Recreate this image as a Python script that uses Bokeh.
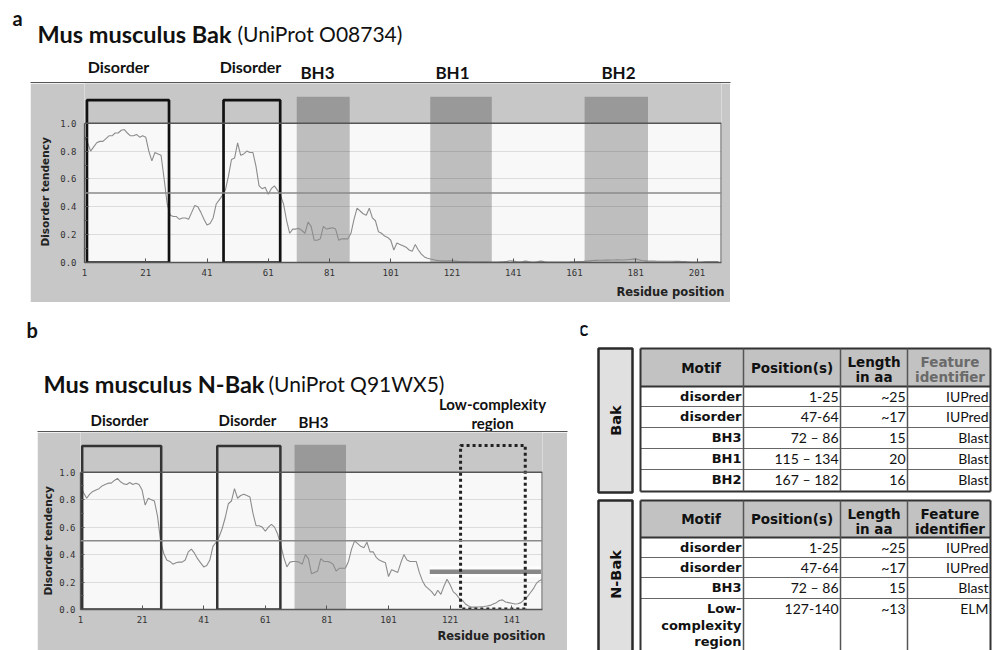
import math
import numpy as np
from bokeh.plotting import figure
from bokeh.models import Range1d, FixedTicker, PrintfTickFormatter, Span, Spacer, Title
from bokeh.layouts import column, row
from bokeh.embed import file_html
from bokeh.resources import INLINE
from bokeh.core.properties import value

# ---------------- data ----------------
# IUPred disorder tendency, Mus musculus Bak (residues 1..208)
bak_disorder = [
    0.90, 0.86, 0.80, 0.83, 0.86, 0.87, 0.87, 0.89, 0.91, 0.91,
    0.93, 0.93, 0.95, 0.955, 0.93, 0.91, 0.91, 0.92, 0.90, 0.91,
    0.90, 0.80, 0.73, 0.79, 0.78, 0.77, 0.60, 0.42, 0.34, 0.33,
    0.33, 0.31, 0.32, 0.32, 0.31, 0.36, 0.41, 0.40, 0.36, 0.31,
    0.27, 0.28, 0.32, 0.42, 0.45, 0.48, 0.52, 0.62, 0.74, 0.75,
    0.86, 0.77, 0.78, 0.80, 0.79, 0.79, 0.69, 0.55, 0.53, 0.54,
    0.49, 0.53, 0.55, 0.52, 0.48, 0.42, 0.30, 0.21, 0.24, 0.24,
    0.245, 0.23, 0.21, 0.29, 0.26, 0.16, 0.16, 0.17, 0.26, 0.24,
    0.245, 0.25, 0.24, 0.16, 0.17, 0.17, 0.17, 0.21, 0.31, 0.39,
    0.37, 0.35, 0.34, 0.39, 0.32, 0.30, 0.22, 0.21, 0.19, 0.18,
    0.16, 0.09, 0.14, 0.13, 0.12, 0.11, 0.09, 0.08, 0.13, 0.09,
    0.06, 0.04, 0.03, 0.025, 0.02, 0.015, 0.012, 0.012, 0.010, 0.012,
    0.012, 0.010, 0.008, 0.007, 0.006, 0.006, 0.005, 0.005, 0.005, 0.005,
    0.005, 0.005, 0.005, 0.004, 0.004, 0.004, 0.005, 0.006, 0.008, 0.012,
    0.010, 0.007, 0.005, 0.006, 0.010, 0.006, 0.004, 0.004, 0.006, 0.010,
    0.006, 0.004, 0.004, 0.004, 0.004, 0.004, 0.004, 0.004, 0.004, 0.005,
    0.005, 0.006, 0.007, 0.008, 0.010, 0.012, 0.014, 0.015, 0.016, 0.016,
    0.017, 0.017, 0.018, 0.018, 0.020, 0.018, 0.018, 0.020, 0.022, 0.024,
    0.026, 0.020, 0.014, 0.012, 0.010, 0.010, 0.010, 0.009, 0.009, 0.009,
    0.009, 0.009, 0.009, 0.008, 0.008, 0.007, 0.006, 0.005, 0.004, 0.004,
    0.004, 0.004, 0.005, 0.006, 0.006, 0.006, 0.006, 0.006,
]

# IUPred disorder tendency, Mus musculus N-Bak (residues 1..151)
nbak_disorder = [
    0.90, 0.85, 0.81, 0.84, 0.86, 0.87, 0.88, 0.90, 0.91, 0.92,
    0.92, 0.94, 0.955, 0.93, 0.915, 0.91, 0.925, 0.91, 0.92, 0.91,
    0.87, 0.76, 0.81, 0.80, 0.79, 0.68, 0.50, 0.41, 0.36, 0.35,
    0.33, 0.34, 0.345, 0.345, 0.36, 0.42, 0.44, 0.41, 0.37, 0.34,
    0.31, 0.32, 0.36, 0.46, 0.49, 0.53, 0.59, 0.67, 0.77, 0.79,
    0.88, 0.81, 0.83, 0.84, 0.83, 0.82, 0.70, 0.61, 0.61, 0.60,
    0.57, 0.60, 0.62, 0.60, 0.55, 0.47, 0.38, 0.31, 0.345, 0.35,
    0.35, 0.345, 0.33, 0.40, 0.37, 0.26, 0.27, 0.28, 0.37, 0.35,
    0.35, 0.345, 0.33, 0.28, 0.30, 0.30, 0.30, 0.35, 0.44, 0.50,
    0.48, 0.46, 0.45, 0.49, 0.42, 0.42, 0.38, 0.36, 0.35, 0.34,
    0.24, 0.29, 0.28, 0.27, 0.34, 0.40, 0.36, 0.35, 0.35, 0.35,
    0.27, 0.21, 0.17, 0.15, 0.13, 0.10, 0.14, 0.11, 0.17, 0.22,
    0.18, 0.13, 0.11, 0.08, 0.066, 0.04, 0.025, 0.017, 0.017, 0.018,
    0.02, 0.022, 0.025, 0.03, 0.04, 0.05, 0.065, 0.07, 0.055, 0.05,
    0.045, 0.04, 0.042, 0.05, 0.07, 0.09, 0.12, 0.15, 0.19, 0.21, 0.22,
]

# region spans (residues)
bak_disorder_start = [1.8, 46.4]
bak_disorder_end = [28.6, 64.9]
bak_motif_start = [70.3, 113.9, 164.3]     # BH3, BH1, BH2
bak_motif_end = [87.6, 134.0, 185.0]

nbak_disorder_start = [1.55, 45.4]
nbak_disorder_end = [27.2, 65.9]
nbak_motif_start = [70.5]                   # BH3
nbak_motif_end = [87.2]
nbak_lcr_start = [124.4]                    # low-complexity region
nbak_lcr_end = [145.4]
nbak_lcr_mark_x = [114.4, 150.5]
nbak_lcr_mark_y = [0.275, 0.275]

bak_xticks = [1, 21, 41, 61, 81, 101, 121, 141, 161, 181, 201]
nbak_xticks = [1, 21, 41, 61, 81, 101, 121, 141]
y_ticks = [0.0, 0.2, 0.4, 0.6, 0.8, 1.0]
y_minor_ticks = [0.1, 0.3, 0.5, 0.7, 0.9]
grid_ticks = [0.2, 0.4, 0.6, 0.8]

bak_labels = ["Disorder", "Disorder"]
bak_motif_labels = ["BH3", "BH1", "BH2"]
nbak_labels = ["Disorder", "Disorder", "BH3"]

table_header = ["Motif", "Position(s)", "Length", "in aa", "Feature", "identifier"]
bak_rows = [
    ("disorder", "1-25", "~25", "IUPred"),
    ("disorder", "47-64", "~17", "IUPred"),
    ("BH3", "72 \u2013 86", "15", "Blast"),
    ("BH1", "115 \u2013 134", "20", "Blast"),
    ("BH2", "167 \u2013 182", "16", "Blast"),
]
nbak_rows = [
    ("disorder", "1-25", "~25", "IUPred"),
    ("disorder", "47-64", "~17", "IUPred"),
    ("BH3", "72 \u2013 86", "15", "Blast"),
    ("Low-|complexity|region", "127-140", "~13", "ELM"),
]

# ---------------- style ----------------
GRAY = "#c7c7c7"
PLOT_BG = "#f8f8f8"
CURVE = "#8c8c8c"
DARK = "#555555"
LATO = value("Lato")
DJB = value("DejaVu Sans")


def blank(width, height, x0, x1, y_bottom, y_top):
    f = figure(width=width, height=height, x_range=Range1d(x0, x1),
               y_range=Range1d(y_bottom, y_top), toolbar_location=None,
               output_backend="svg", min_border=0, x_axis_location=None,
               y_axis_location=None, outline_line_color=None,
               background_fill_color="white", border_fill_color="white")
    f.xgrid.grid_line_color = None
    f.ygrid.grid_line_color = None
    return f


def make_panel(vals, xmax, xticks, width, height, mb_left, mb_right, mb_bottom,
               ytop, ytick_standoff, ylab_offset, ylab_standoff, xlab_standoff):
    res = np.arange(1, len(vals) + 1)
    p = figure(width=width, height=height, x_range=Range1d(1, xmax),
               y_range=Range1d(0, ytop), toolbar_location=None,
               output_backend="svg", min_border_left=mb_left,
               min_border_right=mb_right, min_border_top=0,
               min_border_bottom=mb_bottom, background_fill_color=PLOT_BG,
               border_fill_color=GRAY, outline_line_color=None)
    p.xgrid.visible = False
    p.ygrid.ticker = FixedTicker(ticks=grid_ticks)
    p.ygrid.grid_line_color = "#dcdcdc"
    p.ygrid.grid_line_width = 1.2

    ax = p.xaxis[0]
    ax.ticker = FixedTicker(ticks=xticks)
    ax.major_tick_in = 4
    ax.major_tick_out = 0
    ax.minor_tick_line_color = None
    ax.major_label_standoff = 6
    ax.major_label_text_font = "DejaVu Sans Mono"
    ax.major_label_text_font_size = "9px"
    ax.major_label_text_color = "#333333"
    ax.axis_line_color = DARK
    ax.axis_line_width = 1.3
    ax.major_tick_line_color = DARK

    ay = p.yaxis[0]
    ay.ticker = FixedTicker(ticks=y_ticks, minor_ticks=y_minor_ticks)
    ay.bounds = (0, 1)
    ay.formatter = PrintfTickFormatter(format="%.1f")
    ay.major_tick_in = 4
    ay.major_tick_out = 0
    ay.minor_tick_in = 3
    ay.minor_tick_out = 0
    ay.major_label_standoff = ytick_standoff
    ay.major_label_text_font = "DejaVu Sans Mono"
    ay.major_label_text_font_size = "9px"
    ay.major_label_text_color = "#333333"
    ay.axis_line_color = DARK
    ay.axis_line_width = 1.3
    ay.major_tick_line_color = DARK
    ay.minor_tick_line_color = DARK

    # grey band above the 1.0 limit
    p.quad(left=[-50], right=[xmax + 50], bottom=[1], top=[ytop + 1],
           fill_color=GRAY, line_color=None)
    p.add_layout(Span(location=0.5, dimension="width", line_color="#8a8a8a",
                      line_width=1.5))
    p.add_layout(Span(location=1.0, dimension="width", line_color=DARK,
                      line_width=1.6))
    p.segment(x0=[xmax], y0=[0], x1=[xmax], y1=[1], line_color=DARK, line_width=2)

    p.add_layout(Title(text="Disorder tendency", align="left", offset=ylab_offset,
                       standoff=ylab_standoff, text_font="DejaVu Sans",
                       text_font_style="bold", text_font_size="10.5px",
                       text_color="#222222"), "left")
    p.add_layout(Title(text="Residue position", align="right", offset=-3,
                       standoff=xlab_standoff, text_font="DejaVu Sans",
                       text_font_style="bold", text_font_size="11.5px",
                       text_color="#222222"), "below")
    return p, res


# ---------------- panel a ----------------
pa, bak_res = make_panel(bak_disorder, 209, bak_xticks, 700, 219, 53, 9, 39,
                         1.2857, 8, 16, 13, 8)
pa.quad(left=bak_motif_start, right=bak_motif_end, bottom=0, top=1.19,
        fill_color="black", fill_alpha=0.23, line_color=None)
pa.line(x=bak_res, y=bak_disorder, line_color=CURVE, line_width=1.1)
pa.quad(left=bak_disorder_start, right=bak_disorder_end, bottom=0, top=1.166,
        fill_color=None, line_color="#111111", line_width=2.7)

# ---------------- panel b ----------------
pb, nbak_res = make_panel(nbak_disorder, 151, nbak_xticks, 530, 218, 41, 25, 41,
                          1.289, 5, 14, 5, 3)
pb.quad(left=nbak_motif_start, right=nbak_motif_end, bottom=0, top=1.2,
        fill_color="black", fill_alpha=0.23, line_color=None)
pb.line(x=nbak_lcr_mark_x, y=nbak_lcr_mark_y, line_color="white", line_width=11,
        line_alpha=0.7)
pb.line(x=nbak_res, y=nbak_disorder, line_color=CURVE, line_width=1.1)
pb.line(x=nbak_lcr_mark_x, y=nbak_lcr_mark_y, line_color="#7a7a7a", line_width=4.5,
        line_alpha=0.9)
pb.quad(left=nbak_disorder_start, right=nbak_disorder_end, bottom=0, top=1.19,
        fill_color=None, line_color="#333333", line_width=2.5)
pb.quad(left=nbak_lcr_start, right=nbak_lcr_end, bottom=0.004, top=1.194,
        fill_color=None, line_color="#222222", line_width=3, line_dash="3 3")

# ---------------- strip above panel a (page pixel coordinates) ----------------
sa = blank(997, 83, 0, 997, 83, 0)
sa.text(x=[12], y=[17], text=["a"], text_font=LATO, text_font_style="bold",
        text_font_size="20px", text_align="left", text_baseline="middle",
        text_color="#111111")
sa.text(x=[37], y=[33], text=["Mus musculus Bak"], text_font=LATO,
        text_font_style="bold", text_font_size="23.5px", text_align="left",
        text_baseline="middle", text_color="#111111")
sa.text(x=[237], y=[33], text=["(UniProt O08734)"], text_font=LATO,
        text_font_size="21px", text_align="left", text_baseline="middle",
        text_color="#111111")
sa.text(x=[118, 250], y=[66, 66], text=bak_labels, text_font=LATO,
        text_font_style="bold", text_font_size="16px", text_align="center",
        text_baseline="middle", text_color="#111111")
sa.text(x=[317, 452, 618], y=[72, 72, 72], text=bak_motif_labels, text_font=LATO,
        text_font_style="bold", text_font_size="17px", text_align="center",
        text_baseline="middle", text_color="#111111")
sa.segment(x0=[30], y0=[82.3], x1=[730], y1=[82.3], line_color=DARK, line_width=1.6)

# ---------------- strip above panel b ----------------
sb = blank(580, 130, 0, 580, 432, 302)
sb.text(x=[26], y=[329], text=["b"], text_font=LATO, text_font_style="bold",
        text_font_size="20px", text_align="left", text_baseline="middle",
        text_color="#111111")
sb.text(x=[43], y=[383], text=["Mus musculus N-Bak"], text_font=LATO,
        text_font_style="bold", text_font_size="23.5px", text_align="left",
        text_baseline="middle", text_color="#111111")
sb.text(x=[268], y=[383], text=["(UniProt Q91WX5)"], text_font=LATO,
        text_font_size="21px", text_align="left", text_baseline="middle",
        text_color="#111111")
sb.text(x=[119, 247, 313], y=[419, 419, 421], text=nbak_labels, text_font=LATO,
        text_font_style="bold", text_font_size="15px", text_align="center",
        text_baseline="middle", text_color="#111111")
sb.text(x=[492, 492], y=[403, 422], text=["Low-complexity", "region"], text_font=LATO,
        text_font_style="bold", text_font_size="15px", text_align="center",
        text_baseline="middle", text_color="#111111")
sb.segment(x0=[37], y0=[431.3], x1=[567], y1=[431.3], line_color=DARK, line_width=1.6)

# ---------------- table c ----------------
tc = blank(417, 348, 580, 997, 650, 302)
tc.text(x=[583], y=[327], text=["c"], text_font=LATO, text_font_style="bold",
        text_font_size="20px", text_align="center", text_baseline="middle",
        text_color="#111111")

COLS = [640, 743, 840, 907, 990]


def draw_table(edges, rows, feature_color, side_label, side_top, side_bottom, side_mid):
    top, hb = edges[0], edges[1]
    bottom = edges[-1]
    tc.quad(left=[598], right=[632], top=[side_top], bottom=[side_bottom],
            fill_color="#e0e0e0", line_color="#2a2a2a", line_width=2.5)
    tc.text(x=[615], y=[side_mid], text=[side_label], angle=math.pi / 2,
            text_font=DJB, text_font_style="bold", text_font_size="14.5px",
            text_align="center", text_baseline="middle", text_color="#111111")
    tc.quad(left=[COLS[0]], right=[COLS[-1]], top=[top], bottom=[hb],
            fill_color="#c2c2c2", line_color=None)
    tc.quad(left=[COLS[0]], right=[COLS[-1]], top=[hb], bottom=[bottom],
            fill_color="white", line_color=None)
    tc.segment(x0=[COLS[0]] * (len(edges) - 2), y0=edges[2:-1],
               x1=[COLS[-1]] * (len(edges) - 2), y1=edges[2:-1],
               line_color="#666666", line_width=1)
    tc.segment(x0=[COLS[0]] * 3, y0=[top, hb, bottom], x1=[COLS[-1]] * 3,
               y1=[top, hb, bottom], line_color="#333333", line_width=2)
    tc.segment(x0=COLS[1:-1], y0=[top] * 3, x1=COLS[1:-1], y1=[bottom] * 3,
               line_color="#555555", line_width=1.5)
    tc.segment(x0=[COLS[0], COLS[-1]], y0=[top] * 2, x1=[COLS[0], COLS[-1]],
               y1=[bottom] * 2, line_color="#333333", line_width=2)
    hc = (top + hb) / 2
    tc.text(x=[(COLS[0] + COLS[1]) / 2 + 9, (COLS[1] + COLS[2]) / 2,
               (COLS[2] + COLS[3]) / 2, (COLS[2] + COLS[3]) / 2],
            y=[hc, hc, hc - 5.5, hc + 9.5],
            text=table_header[:4], text_font=DJB, text_font_style="bold",
            text_font_size="13.5px", text_align="center", text_baseline="middle",
            text_color="#111111")
    tc.text(x=[(COLS[3] + COLS[4]) / 2 + 1] * 2, y=[hc - 5.5, hc + 9.5],
            text=table_header[4:], text_font=DJB, text_font_style="bold",
            text_font_size="13.5px", text_align="center", text_baseline="middle",
            text_color=feature_color)
    for i, (motif, pos, length, feat) in enumerate(rows):
        r_top = edges[i + 1]
        r_bot = edges[i + 2]
        yc = min((r_top + r_bot) / 2 + 1, r_top + 10)
        lines = motif.split("|")
        tc.text(x=[COLS[1] - 2] * len(lines),
                y=[yc + 16.5 * k for k in range(len(lines))], text=lines,
                text_font=DJB, text_font_style="bold", text_font_size="13px",
                text_align="right", text_baseline="middle", text_color="#111111")
        tc.text(x=[COLS[2] - 2, COLS[3] - 2, COLS[4] - 2], y=[yc] * 3,
                text=[pos, length, feat], text_font=LATO, text_font_size="14px",
                text_align="right", text_baseline="middle", text_color="#111111")


draw_table([348, 386, 406, 427, 448, 469, 491], bak_rows, "#6a6a6a", "Bak", 348, 492, 420)
draw_table([500, 537, 557, 577, 598, 665], nbak_rows, "#111111", "N-Bak", 500, 665, 574)

layout = column(
    sa,
    row(Spacer(width=30, height=219), pa),
    row(column(sb, row(Spacer(width=37, height=218), pb)), tc),
)

open("out.html", "w").write(file_html(layout, INLINE))
